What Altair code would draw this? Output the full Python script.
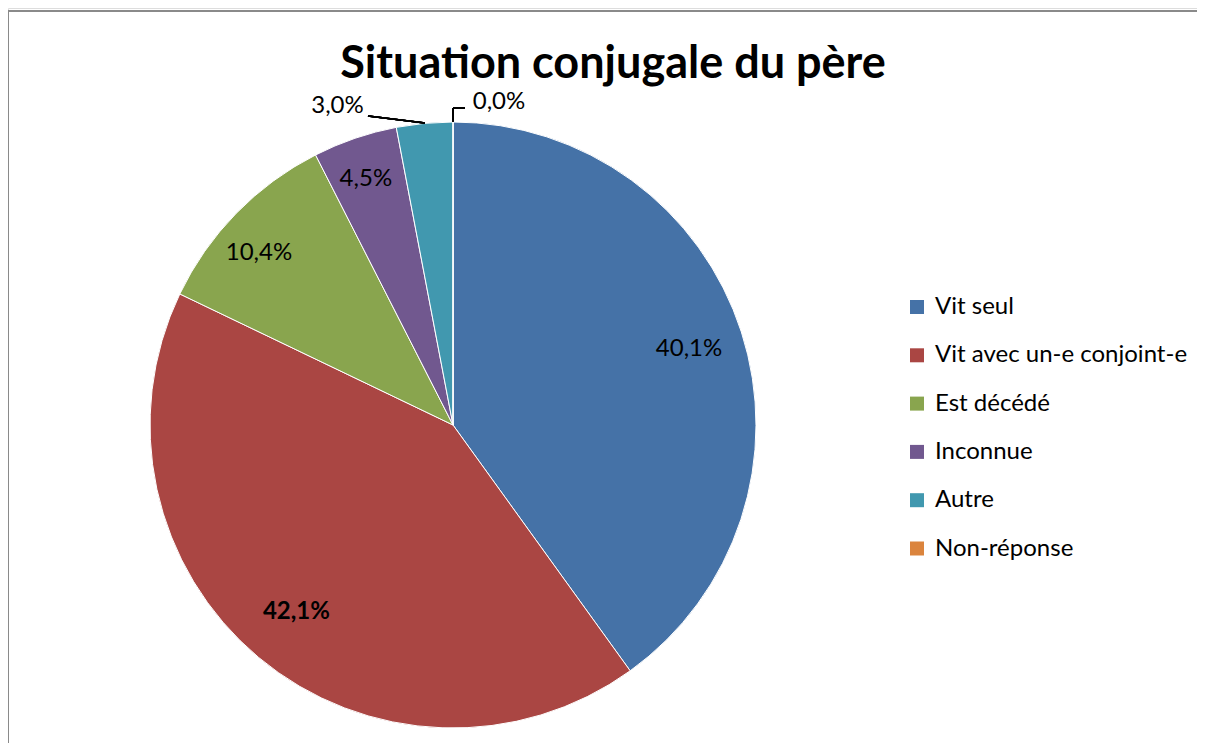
import altair as alt
import pandas as pd

categories = ["Vit seul", "Vit avec un-e conjoint-e", "Est décédé", "Inconnue", "Autre", "Non-réponse"]
values = [40.1, 42.1, 10.4, 4.5, 3.0, 0.0]
labels = ["40,1%", "42,1%", "10,4%", "4,5%", "3,0%", "0,0%"]
colors = ["#4572A7", "#AA4643", "#89A54E", "#71588F", "#4198AF", "#DB843D"]
title_text = "Situation conjugale du père"

df = pd.DataFrame({
    "cat": categories,
    "val": values,
    "lab": labels,
    "ord": list(range(len(categories))),
})

FONT = "Lato"
CX, CY, R = 445, 417, 303
W, H = 1189, 735

base = alt.Chart(df).encode(
    theta=alt.Theta("val:Q", stack=True),
    order=alt.Order("ord:Q"),
)

color = alt.Color(
    "cat:N",
    scale=alt.Scale(domain=categories, range=colors),
    sort=categories,
    legend=alt.Legend(
        title=None, orient="none", legendX=897, legendY=287,
        symbolType="square", symbolSize=196, symbolStrokeWidth=0,
        labelFont=FONT, labelFontSize=24, labelColor="#000000", labelLimit=500,
        rowPadding=24.3, labelOffset=6, padding=0,
    ),
)

pie = base.mark_arc(outerRadius=R, stroke="white", strokeWidth=1).encode(
    color=color,
    x=alt.value(CX), y=alt.value(CY),
)


def lbl(names, radius, weight="normal", dx=0, dy=0):
    cond = " || ".join([f"datum.cat == '{n}'" for n in names])
    return base.transform_calculate(
        t=f"({cond}) ? datum.lab : ''"
    ).mark_text(
        radius=radius, font=FONT, fontSize=24, fontWeight=weight,
        color="#000000", align="center", baseline="middle", dx=dx, dy=dy,
    ).encode(
        text="t:N", detail="cat:N",
        x=alt.value(CX), y=alt.value(CY),
    )


t1 = lbl(["Vit seul"], 248)
t2 = lbl(["Vit avec un-e conjoint-e"], 244, weight="bold")
t3a = lbl(["Est décédé"], 260, dx=-8, dy=10)
t3b = lbl(["Inconnue"], 260, dx=-3)
t4 = lbl(["Autre"], R, dx=-87, dy=-17)
t5 = lbl(["Non-réponse"], R, dx=46, dy=-20)

lead1 = alt.Chart(df).mark_rule(color="#000000", strokeWidth=1.5).encode(
    x=alt.value(360), x2=alt.value(417), y=alt.value(108), y2=alt.value(115)
)
lead2a = alt.Chart(df).mark_rule(color="#000000", strokeWidth=1.5).encode(
    x=alt.value(445), x2=alt.value(445), y=alt.value(100), y2=alt.value(114)
)
lead2b = alt.Chart(df).mark_rule(color="#000000", strokeWidth=1.5).encode(
    x=alt.value(445), x2=alt.value(457), y=alt.value(100), y2=alt.value(100)
)
border_top = alt.Chart(df).mark_rule(color="#8a8a8a", strokeWidth=2).encode(
    x=alt.value(0), x2=alt.value(W), y=alt.value(3), y2=alt.value(3)
)
border_left = alt.Chart(df).mark_rule(color="#8a8a8a", strokeWidth=2).encode(
    x=alt.value(0), x2=alt.value(0), y=alt.value(3), y2=alt.value(H)
)

title = alt.Chart(pd.DataFrame({"t": [title_text]})).mark_text(
    font=FONT, fontSize=45, fontWeight="bold", color="#000000",
    align="center", baseline="alphabetic",
).encode(text="t:N", x=alt.value(605), y=alt.value(70))

chart = alt.layer(
    border_top, border_left, pie, t1, t2, t3a, t3b, t4, t5, lead1, lead2a, lead2b, title
).properties(
    width=W, height=H,
    autosize=alt.AutoSizeParams(type="none"),
    padding=0,
).configure_view(stroke=None).configure(background="white")

chart.save("out.html", embed_options={"renderer": "svg", "actions": False})
